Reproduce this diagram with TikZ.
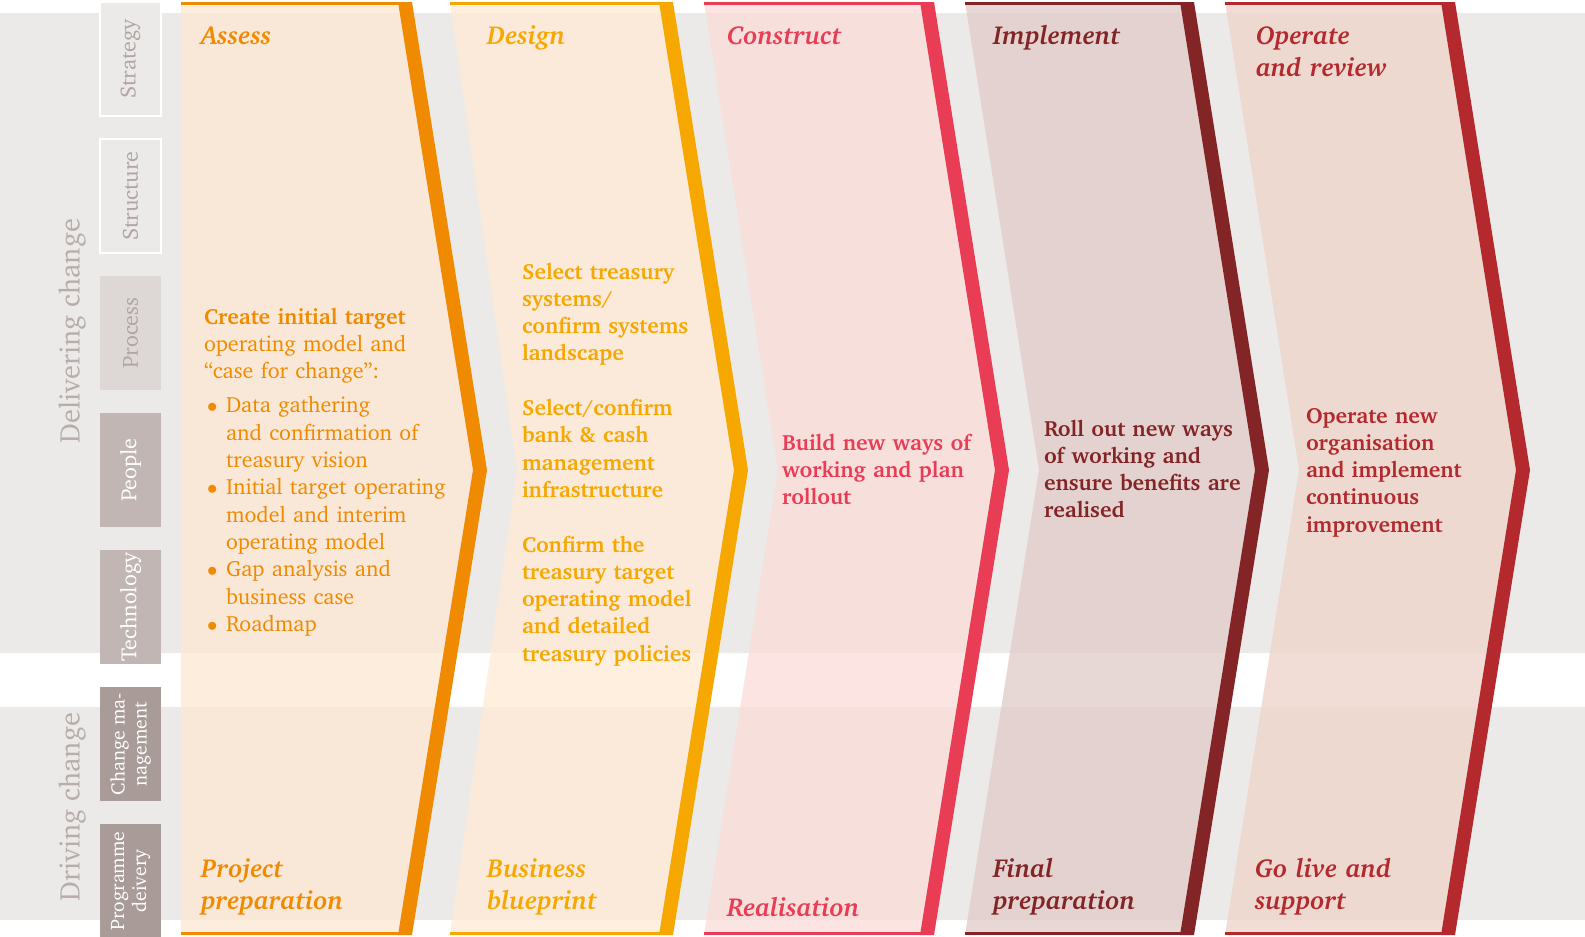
\documentclass[tikz,border=0pt]{standalone}
\usepackage[T1]{fontenc}
\usepackage{charter}
\usepackage{color}
\usepackage{tikz}
\usetikzlibrary{arrows}

\definecolor{bandgray}{HTML}{EBEAE8}
\definecolor{assessorange}{HTML}{F08A00}
\definecolor{designyellow}{HTML}{F6A800}
\definecolor{constructpink}{HTML}{E93C55}
\definecolor{implementbrown}{HTML}{832426}
\definecolor{operatered}{HTML}{B3292D}
\definecolor{assessfill}{HTML}{FDE8D4}
\definecolor{designfill}{HTML}{FFEBD6}
\definecolor{constructfill}{HTML}{FADDD9}
\definecolor{implementfill}{HTML}{E1CDCA}
\definecolor{operatefill}{HTML}{EFD5CC}
\definecolor{sidetext}{HTML}{B0A5A3}
\definecolor{processbox}{HTML}{DDD8D6}
\definecolor{peoplebox}{HTML}{C1B6B4}
\definecolor{changebox}{HTML}{A89B98}
\definecolor{grouptext}{HTML}{B8ADAB}

\newcommand{\bodyfont}{\fontsize{22}{27.3}\selectfont}
\newcommand{\headfont}{\fontsize{26}{32.4}\selectfont\bfseries\itshape}
\newcommand{\sidefont}{\fontsize{22}{23}\selectfont}
\newcommand{\sidesmallfont}{\fontsize{19.5}{22}\selectfont}
\newcommand{\groupfont}{\fontsize{28.5}{30}\selectfont}
\newcommand{\bulletmark}{\makebox[22pt][l]{\hspace{3pt}$\bullet$}}
\newcommand{\contindent}{\hspace*{22pt}}

\begin{document}
\begin{tikzpicture}[x=1pt,y=-1pt]
      \tikzstyle{every node}=[inner sep=0pt,outer sep=0pt]
      \tikzstyle{sidebox}=[rotate=90,minimum width=114pt,minimum height=61pt,align=center,font=\sidefont]
      \tikzstyle{txt}=[anchor=base west,text width=300pt,align=left]
      \tikzstyle{head}=[txt,font=\headfont]

      \useasboundingbox (0,0) rectangle (1585,937);

      % grey bands behind everything
      \fill[bandgray] (0,13) rectangle (1585,653);
      \fill[bandgray] (0,707) rectangle (1585,920);

      % left hand labels
      \node[rotate=90,font=\groupfont,text=grouptext] (deliver) at (72,331) {Delivering change};
      \node[rotate=90,font=\groupfont,text=grouptext] (driving) at (72,807) {Driving change};

      \node[sidebox,fill=bandgray,draw=white,line width=1.5pt,text=sidetext] (s0) at (130.5,59) {Strategy};
      \node[sidebox,fill=bandgray,draw=white,line width=1.5pt,text=sidetext] (s1) at (130.5,196) {Structure};
      \node[sidebox,fill=processbox,text=sidetext] (s2) at (130.5,333) {Process};
      \node[sidebox,fill=peoplebox,text=white] (s3) at (130.5,470) {People};
      \node[sidebox,fill=peoplebox,text=white] (s4) at (130.5,607) {Technology};
      \node[sidebox,fill=changebox,text=white,font=\sidesmallfont] (s5) at (130.5,744) {Change ma-\\nagement};
      \node[sidebox,fill=changebox,text=white,font=\sidesmallfont] (s6) at (130.5,881) {Programme\\deivery};

      % assess
      \fill[assessfill,fill opacity=0.8] (181,2) -- (398,2) -- (473,470) -- (398,935) -- (181,935) -- cycle;
      \fill[assessorange] (398,2) -- (412,2) -- (487,470) -- (412,935) -- (398,935) -- (473,470) -- cycle;
      \draw[assessorange,line width=3pt] (181,3.5) -- (412,3.5);
      \draw[assessorange,line width=3pt] (181,933.5) -- (412,933.5);

      % design
      \fill[designfill,fill opacity=0.8] (450,2) -- (659,2) -- (734,470) -- (659,935) -- (450,935) -- (517,470) -- cycle;
      \fill[designyellow] (659,2) -- (673,2) -- (748,470) -- (673,935) -- (659,935) -- (734,470) -- cycle;
      \draw[designyellow,line width=3pt] (450,3.5) -- (673,3.5);
      \draw[designyellow,line width=3pt] (450,933.5) -- (673,933.5);

      % construct
      \fill[constructfill,fill opacity=0.8] (704,2) -- (920,2) -- (995,470) -- (920,935) -- (704,935) -- (778,470) -- cycle;
      \fill[constructpink] (920,2) -- (934,2) -- (1009,470) -- (934,935) -- (920,935) -- (995,470) -- cycle;
      \draw[constructpink,line width=3pt] (704,3.5) -- (934,3.5);
      \draw[constructpink,line width=3pt] (704,933.5) -- (934,933.5);

      % implement
      \fill[implementfill,fill opacity=0.8] (965,2) -- (1180,2) -- (1255,470) -- (1180,935) -- (965,935) -- (1039,470) -- cycle;
      \fill[implementbrown] (1180,2) -- (1194,2) -- (1269,470) -- (1194,935) -- (1180,935) -- (1255,470) -- cycle;
      \draw[implementbrown,line width=3pt] (965,3.5) -- (1194,3.5);
      \draw[implementbrown,line width=3pt] (965,933.5) -- (1194,933.5);

      % operate
      \fill[operatefill,fill opacity=0.8] (1225,2) -- (1441,2) -- (1516,470) -- (1441,935) -- (1225,935) -- (1299,470) -- cycle;
      \fill[operatered] (1441,2) -- (1455,2) -- (1530,470) -- (1455,935) -- (1441,935) -- (1516,470) -- cycle;
      \draw[operatered,line width=3pt] (1225,3.5) -- (1455,3.5);
      \draw[operatered,line width=3pt] (1225,933.5) -- (1455,933.5);

      % titles
      \node[head,text=assessorange] (t0) at (201,44) {Assess};
      \node[head,text=designyellow] (t1) at (487,44) {Design};
      \node[head,text=constructpink] (t2) at (727,44) {Construct};
      \node[head,text=implementbrown] (t3) at (993,44) {Implement};
      \node[head,text=operatered] (t4) at (1256,44) {Operate\\and review};

      % phase names
      \node[head,text=assessorange] (f0) at (201,877) {Project\\preparation};
      \node[head,text=designyellow] (f1) at (487,877) {Business\\blueprint};
      \node[head,text=constructpink] (f2) at (727,916) {Realisation};
      \node[head,text=implementbrown] (f3) at (993,877) {Final\\preparation};
      \node[head,text=operatered] (f4) at (1255,877) {Go live and\\support};

      % what happens in each phase
      \node[txt,text=assessorange,font=\bodyfont] (b0) at (204,324)
        {{\bfseries Create initial target}\\
         operating model and\\
         ``case for change'':\\[7pt]
         \bulletmark Data gathering\\
         \contindent and confirmation of\\
         \contindent treasury vision\\
         \bulletmark Initial target operating\\
         \contindent model and interim\\
         \contindent operating model\\
         \bulletmark Gap analysis and\\
         \contindent business case\\
         \bulletmark Roadmap};

      \node[txt,text=designyellow,font=\bodyfont\bfseries] (b1) at (522,279)
        {Select treasury\\
         systems/\\
         confirm systems\\
         landscape\\[27.3pt]
         Select/confirm\\
         bank \& cash\\
         management\\
         infrastructure\\[27.3pt]
         Confirm the\\
         treasury target\\
         operating model\\
         and detailed\\
         treasury policies};

      \node[txt,text=constructpink,font=\bodyfont\bfseries] (b2) at (782,450)
        {Build new ways of\\
         working and plan\\
         rollout};

      \node[txt,text=implementbrown,font=\bodyfont\bfseries] (b3) at (1044,436)
        {Roll out new ways\\
         of working and\\
         ensure benefits are\\
         realised};

      \node[txt,text=operatered,font=\bodyfont\bfseries] (b4) at (1306,423)
        {Operate new\\
         organisation\\
         and implement\\
         continuous\\
         improvement};

    \end{tikzpicture}
\end{document}
